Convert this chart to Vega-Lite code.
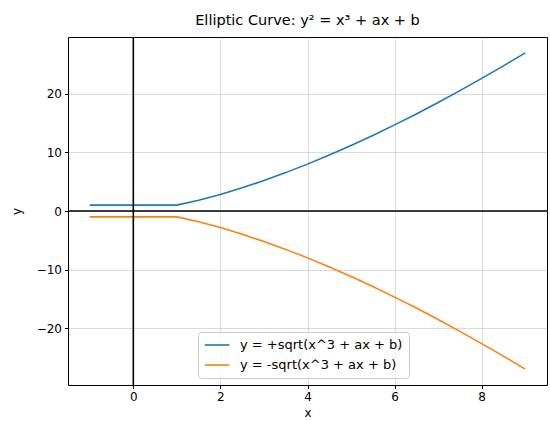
{
  "$schema": "https://vega.github.io/schema/vega-lite/v6.json",
  "autosize": "none",
  "padding": {"left": 68, "top": 37, "right": 3, "bottom": 36},
  "width": 479,
  "height": 348,
  "background": "white",
  "title": {"text": "Elliptic Curve: y² = x³ + ax + b", "font": "DejaVu Sans", "fontSize": 14.5, "fontWeight": "normal", "color": "black", "anchor": "middle", "offset": 8},
  "config": {
    "view": {"stroke": "black", "strokeWidth": 1},
    "axis": {"labelFont": "DejaVu Sans", "labelFontSize": 12, "labelColor": "black", "titleFont": "DejaVu Sans", "titleFontSize": 12, "titleFontWeight": "normal", "titleColor": "black", "domain": false, "tickColor": "black", "tickSize": 3.5, "labelPadding": 3, "gridColor": "#b0b0b0", "gridWidth": 0.8, "gridOpacity": 0.6},
    "legend": {"labelFont": "DejaVu Sans", "labelFontSize": 13, "labelColor": "black", "labelLimit": 400}
  },
  "data": {"values": [
    {"x": -1, "series": "y = +sqrt(x^3 + ax + b)", "y": 1},
    {"x": 0, "series": "y = +sqrt(x^3 + ax + b)", "y": 1},
    {"x": 1, "series": "y = +sqrt(x^3 + ax + b)", "y": 1},
    {"x": 1.5, "series": "y = +sqrt(x^3 + ax + b)", "y": 1.84},
    {"x": 2, "series": "y = +sqrt(x^3 + ax + b)", "y": 2.83},
    {"x": 2.5, "series": "y = +sqrt(x^3 + ax + b)", "y": 3.95},
    {"x": 3, "series": "y = +sqrt(x^3 + ax + b)", "y": 5.2},
    {"x": 3.5, "series": "y = +sqrt(x^3 + ax + b)", "y": 6.55},
    {"x": 4, "series": "y = +sqrt(x^3 + ax + b)", "y": 8},
    {"x": 4.5, "series": "y = +sqrt(x^3 + ax + b)", "y": 9.55},
    {"x": 5, "series": "y = +sqrt(x^3 + ax + b)", "y": 11.18},
    {"x": 5.5, "series": "y = +sqrt(x^3 + ax + b)", "y": 12.9},
    {"x": 6, "series": "y = +sqrt(x^3 + ax + b)", "y": 14.7},
    {"x": 6.5, "series": "y = +sqrt(x^3 + ax + b)", "y": 16.57},
    {"x": 7, "series": "y = +sqrt(x^3 + ax + b)", "y": 18.52},
    {"x": 7.5, "series": "y = +sqrt(x^3 + ax + b)", "y": 20.54},
    {"x": 8, "series": "y = +sqrt(x^3 + ax + b)", "y": 22.63},
    {"x": 8.5, "series": "y = +sqrt(x^3 + ax + b)", "y": 24.78},
    {"x": 9, "series": "y = +sqrt(x^3 + ax + b)", "y": 27},
    {"x": -1, "series": "y = -sqrt(x^3 + ax + b)", "y": -1},
    {"x": 0, "series": "y = -sqrt(x^3 + ax + b)", "y": -1},
    {"x": 1, "series": "y = -sqrt(x^3 + ax + b)", "y": -1},
    {"x": 1.5, "series": "y = -sqrt(x^3 + ax + b)", "y": -1.84},
    {"x": 2, "series": "y = -sqrt(x^3 + ax + b)", "y": -2.83},
    {"x": 2.5, "series": "y = -sqrt(x^3 + ax + b)", "y": -3.95},
    {"x": 3, "series": "y = -sqrt(x^3 + ax + b)", "y": -5.2},
    {"x": 3.5, "series": "y = -sqrt(x^3 + ax + b)", "y": -6.55},
    {"x": 4, "series": "y = -sqrt(x^3 + ax + b)", "y": -8},
    {"x": 4.5, "series": "y = -sqrt(x^3 + ax + b)", "y": -9.55},
    {"x": 5, "series": "y = -sqrt(x^3 + ax + b)", "y": -11.18},
    {"x": 5.5, "series": "y = -sqrt(x^3 + ax + b)", "y": -12.9},
    {"x": 6, "series": "y = -sqrt(x^3 + ax + b)", "y": -14.7},
    {"x": 6.5, "series": "y = -sqrt(x^3 + ax + b)", "y": -16.57},
    {"x": 7, "series": "y = -sqrt(x^3 + ax + b)", "y": -18.52},
    {"x": 7.5, "series": "y = -sqrt(x^3 + ax + b)", "y": -20.54},
    {"x": 8, "series": "y = -sqrt(x^3 + ax + b)", "y": -22.63},
    {"x": 8.5, "series": "y = -sqrt(x^3 + ax + b)", "y": -24.78},
    {"x": 9, "series": "y = -sqrt(x^3 + ax + b)", "y": -27}
  ]},
  "layer": [
    {
      "mark": {"type": "line", "strokeWidth": 1.6, "clip": true},
      "encoding": {
        "x": {"field": "x", "type": "quantitative", "scale": {"domain": [-1.5, 9.5], "nice": false, "zero": false}, "axis": {"values": [0, 2, 4, 6, 8], "title": "x", "titlePadding": 5}},
        "y": {"field": "y", "type": "quantitative", "scale": {"domain": [-29.7, 29.7], "nice": false, "zero": false}, "axis": {"values": [-20, -10, 0, 10, 20], "title": "y", "titleX": -52, "titleY": 174, "titleAngle": -90, "titleBaseline": "middle", "titleAlign": "center"}},
        "color": {"field": "series", "type": "nominal", "scale": {"domain": ["y = +sqrt(x^3 + ax + b)", "y = -sqrt(x^3 + ax + b)"], "range": ["#1f77b4", "#ff7f0e"]}, "legend": {"title": null, "orient": "none", "legendX": 130, "legendY": 295, "symbolType": "M-1,0H3", "symbolSize": 150, "symbolStrokeWidth": 1.6, "padding": 6, "rowPadding": 6, "labelOffset": 22, "labelLimit": 400, "fillColor": "rgba(255,255,255,0.8)", "strokeColor": "#cccccc", "cornerRadius": 3}},
        "order": {"field": "x", "type": "quantitative"}
      }
    },
    {
      "data": {"values": [{"y0": 0}]},
      "mark": {"type": "rule", "color": "black", "strokeWidth": 1.6},
      "encoding": {"y": {"field": "y0", "type": "quantitative"}}
    },
    {
      "data": {"values": [{"x0": 0}]},
      "mark": {"type": "rule", "color": "black", "strokeWidth": 1.6},
      "encoding": {"x": {"field": "x0", "type": "quantitative"}}
    }
  ]
}
